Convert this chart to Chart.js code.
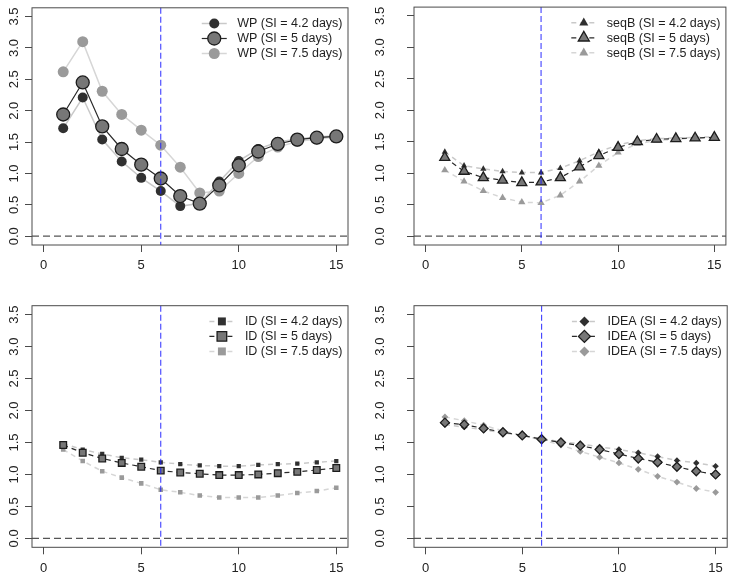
<!DOCTYPE html>
<html><head><meta charset="utf-8">
<script src="https://cdn.jsdelivr.net/npm/chart.js@4/dist/chart.umd.min.js"></script>
<style>
html,body{margin:0;padding:0;background:#fff;}
#wrap{position:relative;width:733px;height:578px;background:#fff;overflow:hidden;}
canvas{position:absolute;}
</style></head><body>
<div id="wrap">
<canvas id="c1" width="366" height="289" style="left:0px;top:0px"></canvas>
<canvas id="c2" width="367" height="289" style="left:366px;top:0px"></canvas>
<canvas id="c3" width="366" height="289" style="left:0px;top:289px"></canvas>
<canvas id="c4" width="367" height="289" style="left:366px;top:289px"></canvas>
</div>
<script>
// ---- data ----
const days = [1, 2, 3, 4, 5, 6, 7, 8, 9, 10, 11, 12, 13, 14, 15];
const siValues = ['4.2', '5', '7.5'];
const xTicks = [0, 5, 10, 15];
const yTicks = [0, 0.5, 1, 1.5, 2, 2.5, 3, 3.5];
const refDay = 6;
const refZero = 0;

const wp42 = [1.72, 2.21, 1.54, 1.19, 0.93, 0.72, 0.48, 0.52, 0.87, 1.20, 1.39, 1.50, 1.55, 1.58, 1.60];
const wp5  = [1.94, 2.45, 1.75, 1.39, 1.14, 0.92, 0.64, 0.52, 0.81, 1.13, 1.35, 1.47, 1.54, 1.57, 1.59];
const wp75 = [2.62, 3.10, 2.31, 1.94, 1.69, 1.45, 1.10, 0.69, 0.72, 1.00, 1.27, 1.42, 1.51, 1.55, 1.58];

const seqB42 = [1.34, 1.12, 1.07, 1.03, 1.01, 1.01, 1.08, 1.20, 1.34, 1.45, 1.52, 1.55, 1.56, 1.57, 1.58];
const seqB5  = [1.25, 1.03, 0.93, 0.89, 0.85, 0.86, 0.93, 1.10, 1.28, 1.41, 1.50, 1.54, 1.55, 1.56, 1.57];
const seqB75 = [1.05, 0.87, 0.72, 0.61, 0.54, 0.53, 0.65, 0.87, 1.12, 1.33, 1.47, 1.52, 1.54, 1.56, 1.57];

const id42 = [1.48, 1.39, 1.32, 1.26, 1.23, 1.19, 1.16, 1.14, 1.13, 1.13, 1.15, 1.16, 1.17, 1.19, 1.21];
const id5  = [1.46, 1.34, 1.25, 1.18, 1.12, 1.06, 1.03, 1.01, 0.99, 0.99, 1.00, 1.02, 1.04, 1.07, 1.10];
const id75 = [1.39, 1.21, 1.05, 0.95, 0.86, 0.76, 0.72, 0.67, 0.64, 0.64, 0.64, 0.67, 0.71, 0.74, 0.79];

const idea42 = [1.78, 1.74, 1.70, 1.65, 1.61, 1.56, 1.51, 1.48, 1.43, 1.39, 1.34, 1.28, 1.22, 1.18, 1.13];
const idea5  = [1.81, 1.78, 1.72, 1.66, 1.61, 1.55, 1.50, 1.45, 1.39, 1.32, 1.25, 1.19, 1.12, 1.05, 1.00];
const idea75 = [1.90, 1.84, 1.77, 1.68, 1.61, 1.54, 1.46, 1.36, 1.27, 1.18, 1.08, 0.97, 0.88, 0.78, 0.72];

// ---- styles ----
const FONT = '"Liberation Sans", Arial, Helvetica, sans-serif';
const TICK_SIZE = 13;
const LEG_SIZE = 12.5;
const seriesStyle = [
  { point: '#303030', pointBorder: '#303030', pointBorderWidth: 0, line: '#c9c9c9', lineWidth: 1.5 },
  { point: '#777777', pointBorder: '#1c1c1c', pointBorderWidth: 1.3, line: '#2a2a2a', lineWidth: 1.2 },
  { point: '#9a9a9a', pointBorder: '#9a9a9a', pointBorderWidth: 0, line: '#d6d6d6', lineWidth: 1.5 }
];

const panels = [
  { id: 'c1', name: 'WP', series: [wp42, wp5, wp75], shape: 'circle', dash: [],
    radius: [5, 6.5, 5.5], legRadius: [5, 6.5, 5.5],
    w: 366, h: 289, box: { l: 32, t: 3, r: 348, b: 245 }, yPad: 1.5 },
  { id: 'c2', name: 'seqB', series: [seqB42, seqB5, seqB75], shape: 'triangle', dash: [5, 4],
    radius: [3.6, 5.8, 4.2], legRadius: [5.2, 6.4, 5.2],
    w: 367, h: 289, box: { l: 48, t: 3, r: 363, b: 245 }, yPad: 17.5 },
  { id: 'c3', name: 'ID', series: [id42, id5, id75], shape: 'rect', dash: [5, 4],
    radius: [3.0, 4.7, 3.2], legRadius: [5.6, 6.8, 5.6],
    w: 366, h: 289, box: { l: 32, t: 16.7, r: 348, b: 258.3 }, yPad: 1.5 },
  { id: 'c4', name: 'IDEA', series: [idea42, idea5, idea75], shape: 'rectRot', dash: [5, 4],
    radius: [3.2, 4.5, 3.4], legRadius: [5, 6, 5],
    w: 367, h: 289, box: { l: 48, t: 16.7, r: 363, b: 258.3 }, yPad: 17.5 }
];

function drawSymbol(ctx, shape, x, y, r) {
  ctx.beginPath();
  if (shape === 'circle') {
    ctx.arc(x, y, r, 0, Math.PI * 2);
  } else if (shape === 'triangle') {
    ctx.moveTo(x, y - r);
    ctx.lineTo(x + r * Math.sin(2 * Math.PI / 3), y - r * Math.cos(2 * Math.PI / 3));
    ctx.lineTo(x + r * Math.sin(4 * Math.PI / 3), y - r * Math.cos(4 * Math.PI / 3));
  } else if (shape === 'rect') {
    const s = Math.SQRT1_2 * r;
    ctx.rect(x - s, y - s, 2 * s, 2 * s);
  } else {
    ctx.moveTo(x - r, y); ctx.lineTo(x, y - r); ctx.lineTo(x + r, y); ctx.lineTo(x, y + r);
  }
  ctx.closePath();
}

const rLegend = {
  id: 'rLegend',
  afterDraw(chart, args, opts) {
    const { ctx, chartArea } = chart;
    ctx.save();
    ctx.font = LEG_SIZE + 'px ' + FONT;
    const dss = chart.data.datasets;
    const maxW = Math.max(...dss.map(d => ctx.measureText(d.label).width));
    const tx = chartArea.right - 5.5 - maxW;
    dss.forEach((ds, i) => {
      const y = chartArea.top + 15.7 + i * 15;
      ctx.setLineDash(ds.borderDash || []);
      ctx.strokeStyle = ds.borderColor;
      ctx.lineWidth = ds.borderWidth;
      ctx.beginPath(); ctx.moveTo(tx - 35.5, y); ctx.lineTo(tx - 10.5, y); ctx.stroke();
      ctx.setLineDash([]);
      drawSymbol(ctx, ds.pointStyle, tx - 23, y, opts.legRadius[i]);
      ctx.fillStyle = ds.pointBackgroundColor; ctx.fill();
      if (ds.pointBorderWidth > 0) { ctx.lineWidth = ds.pointBorderWidth; ctx.strokeStyle = ds.pointBorderColor; ctx.stroke(); }
      ctx.fillStyle = '#1e1e1e';
      ctx.textAlign = 'left'; ctx.textBaseline = 'middle';
      ctx.fillText(ds.label, tx, y + 0.5);
    });
    ctx.restore();
  }
};

const rDecor = {
  id: 'rDecor',
  afterDatasetsDraw(chart) {
    const { ctx, chartArea: a, scales } = chart;
    ctx.save();
    // zero reference line
    const y0 = scales.y.getPixelForValue(refZero);
    ctx.strokeStyle = '#555555'; ctx.lineWidth = 1.2; ctx.setLineDash([7, 4]);
    ctx.beginPath(); ctx.moveTo(a.left, y0); ctx.lineTo(a.right, y0); ctx.stroke();
    // vertical reference day
    const xd = scales.x.getPixelForValue(refDay);
    ctx.strokeStyle = 'rgba(30,30,255,0.85)'; ctx.lineWidth = 1.1; ctx.setLineDash([6, 3]);
    ctx.beginPath(); ctx.moveTo(xd, a.top); ctx.lineTo(xd, a.bottom); ctx.stroke();
    // box
    ctx.setLineDash([]);
    ctx.strokeStyle = '#4a4a4a'; ctx.lineWidth = 1;
    ctx.strokeRect(a.left, a.top, a.right - a.left, a.bottom - a.top);
    ctx.restore();
  }
};

panels.forEach(p => {
  const datasets = p.series.map((vals, i) => {
    const st = seriesStyle[i];
    return {
      label: p.name + ' (SI = ' + siValues[i] + ' days)',
      data: days.map((d, k) => ({ x: d, y: vals[k] })),
      borderColor: st.line,
      borderWidth: st.lineWidth,
      borderDash: p.dash,
      pointStyle: p.shape,
      pointRadius: p.radius[i],
      pointBackgroundColor: st.point,
      pointBorderColor: st.pointBorder,
      pointBorderWidth: st.pointBorderWidth,
      tension: 0,
      fill: false,
      order: i === 1 ? 0 : (i === 0 ? 1 : 2)
    };
  });
  new Chart(document.getElementById(p.id), {
    type: 'line',
    data: { datasets },
    options: {
      responsive: false,
      animation: false,
      events: [],
      layout: { padding: { left: 0, top: p.box.t, right: p.w - p.box.r, bottom: 0 } },
      plugins: {
        legend: { display: false },
        tooltip: { enabled: false },
        rLegend: { legRadius: p.legRadius }
      },
      scales: {
        x: {
          type: 'linear', min: -0.6, max: 15.6,
          afterBuildTicks: ax => { ax.ticks = xTicks.map(v => ({ value: v })); },
          afterFit: s => { s.height = p.h - p.box.b; s.paddingLeft = 0; s.paddingRight = 0; },
          grid: { drawOnChartArea: false, drawTicks: true, tickLength: 7, color: '#4a4a4a', lineWidth: 1 },
          border: { display: false },
          ticks: { autoSkip: false, maxRotation: 0, minRotation: 0, padding: 6, color: '#222',
                   font: { family: FONT, size: TICK_SIZE } }
        },
        y: {
          type: 'linear', min: -0.14, max: 3.64,
          afterBuildTicks: ax => { ax.ticks = yTicks.map(v => ({ value: v })); },
          afterFit: s => { s.width = p.box.l; s.paddingTop = 0; s.paddingBottom = 0; },
          grid: { drawOnChartArea: false, drawTicks: true, tickLength: 7, color: '#4a4a4a', lineWidth: 1 },
          border: { display: false },
          ticks: { autoSkip: false, minRotation: 90, maxRotation: 90, crossAlign: 'center', padding: p.yPad,
                   color: '#222', font: { family: FONT, size: TICK_SIZE },
                   callback: v => Number(v).toFixed(1) }
        }
      }
    },
    plugins: [rDecor, rLegend]
  });
});
</script>
</body></html>
